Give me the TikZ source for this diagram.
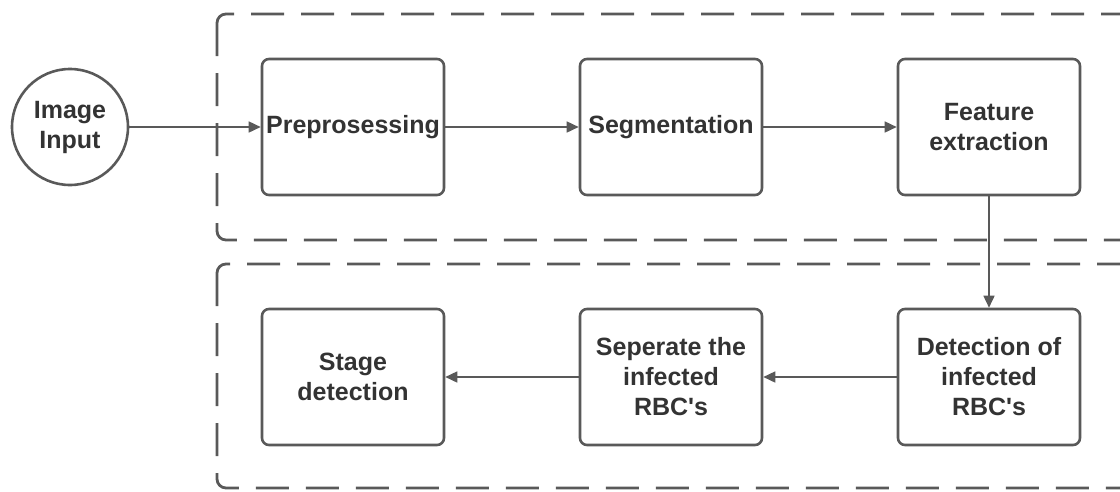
\documentclass[tikz,border=0pt]{standalone}
\usepackage{fontspec}
\setmainfont{Liberation Sans}
\usetikzlibrary{arrows.meta}

\definecolor{linegray}{HTML}{595959}
\definecolor{textgray}{HTML}{333333}

\tikzset{
  stepbox/.style={draw=linegray, line width=2.6pt, rounded corners=7pt,
    minimum width=182pt, minimum height=136pt, inner sep=0pt, align=center,
    text=textgray, font=\fontsize{25}{30}\selectfont\bfseries},
  inputnode/.style={draw=linegray, line width=2.6pt, circle, minimum size=116pt,
    inner sep=0pt, align=center, text=textgray,
    font=\fontsize{25}{30}\selectfont\bfseries},
  flow/.style={draw=linegray, line width=1.6pt,
    -{Triangle[length=12pt, width=11pt]}},
  stagebound/.style={draw=linegray, line width=2.8pt, rounded corners=9pt,
    dash pattern=on 33pt off 17pt}
}

\begin{document}
\begin{tikzpicture}[x=1pt, y=-1pt]

    % Page frame
    \useasboundingbox (0,0) rectangle (1120,491);
    \clip (0,0) rectangle (1120,491);

    % Dashed boundaries of the two stages
    \draw[stagebound] (217,14) rectangle (1160,240);
    \draw[stagebound] (217,264) rectangle (1160,488);

    % Input circle
    \node[inputnode] (img) at (70,127) {Image\\Input};

    % Upper row
    \node[stepbox] (pre) at (353,127) {Preprosessing};
    \node[stepbox] (seg) at (671,127) {Segmentation};
    \node[stepbox] (feat) at (989,127) {Feature\\extraction};

    % Lower row
    \node[stepbox] (det) at (989,377) {Detection of\\infected\\RBC\textquotesingle s};
    \node[stepbox] (sep) at (671,377) {Seperate the\\infected\\RBC\textquotesingle s};
    \node[stepbox] (stage) at (353,377) {Stage\\detection};

    % Flow between the steps
    \draw[flow] (img) -- (pre);
    \draw[flow] (pre) -- (seg);
    \draw[flow] (seg) -- (feat);
    \draw[flow] (feat) -- (det);
    \draw[flow] (det) -- (sep);
    \draw[flow] (sep) -- (stage);
  \end{tikzpicture}
\end{document}
